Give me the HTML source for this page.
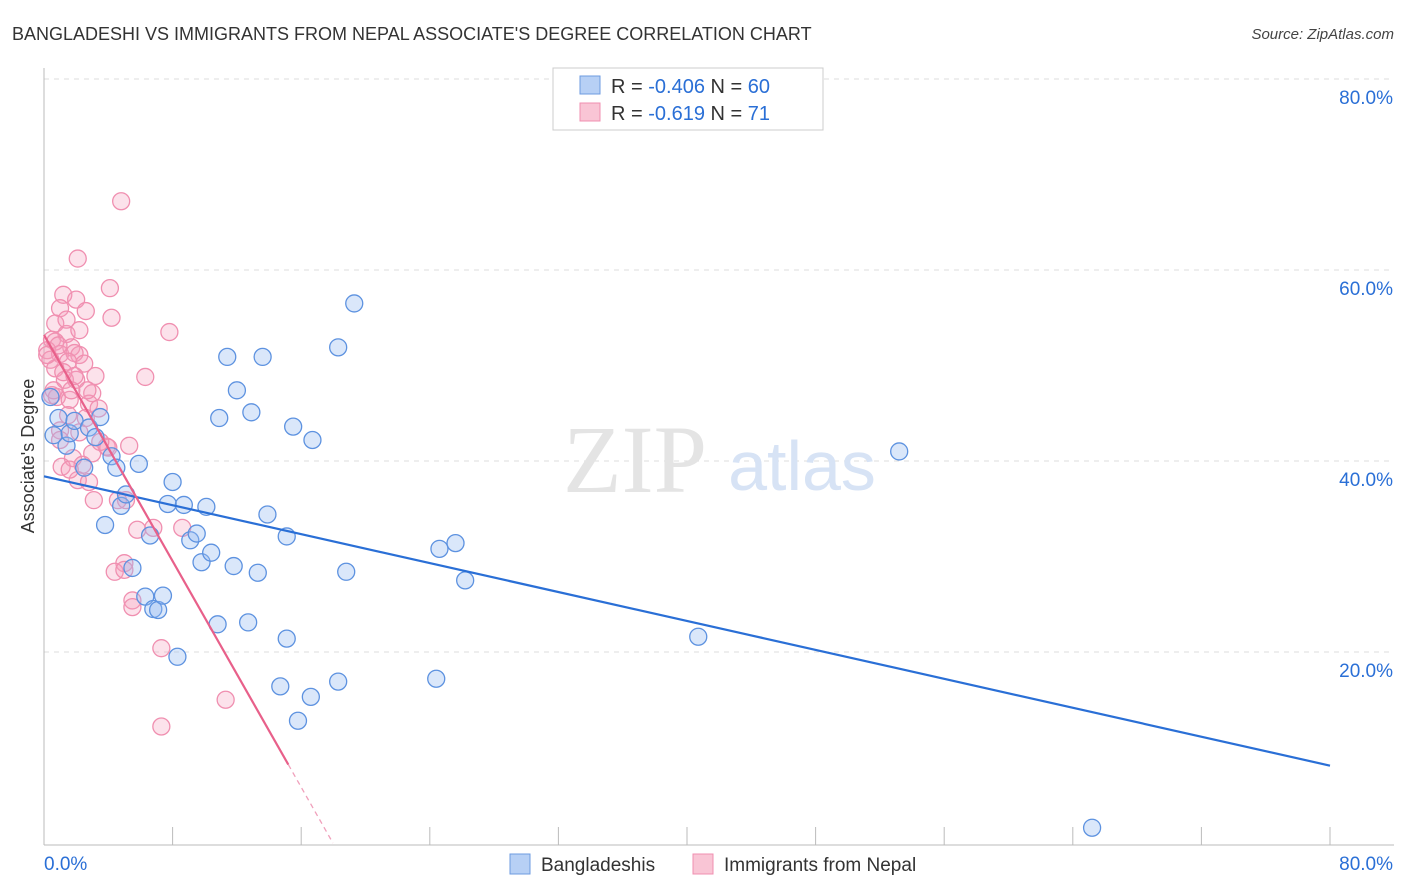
<!DOCTYPE html>
<html><head><meta charset="utf-8"><style>
body{margin:0;background:#fff;font-family:"Liberation Sans",sans-serif;}
</style></head><body>
<svg width="1406" height="892" xmlns="http://www.w3.org/2000/svg" style="display:block">
<text x="12" y="40" font-size="18" fill="#333">BANGLADESHI VS IMMIGRANTS FROM NEPAL ASSOCIATE'S DEGREE CORRELATION CHART</text>
<text x="1394" y="39" font-size="15" fill="#444" text-anchor="end" font-style="italic">Source: ZipAtlas.com</text>
<g id="grid"></g>
<text x="635" y="492" font-size="96" fill="#e4e4e4" font-family="Liberation Serif,serif" text-anchor="middle">ZIP</text>
<text x="802" y="490" font-size="70" fill="#d7e3f5" text-anchor="middle">atlas</text>
<g id="pts"></g>
<g id="lines"></g>
<text transform="translate(34,456) rotate(-90)" font-size="18" fill="#333" text-anchor="middle">Associate's Degree</text>
<g>
<rect x="553" y="68" width="270" height="62" fill="#fff" stroke="#ccc"/>
<rect x="580" y="76" width="20" height="18" fill="#b7d0f5" stroke="#6d9be0"/>
<rect x="580" y="103" width="20" height="18" fill="#f9c5d5" stroke="#f08fb0"/>
<text x="611" y="93" font-size="20" fill="#333">R = <tspan fill="#2a6fd6">-0.406</tspan>   N = <tspan fill="#2a6fd6">60</tspan></text>
<text x="611" y="120" font-size="20" fill="#333">R =  <tspan fill="#2a6fd6">-0.619</tspan>   N =  <tspan fill="#2a6fd6">71</tspan></text>
</g>
<g>
<rect x="510" y="854" width="20" height="20" fill="#b7d0f5" stroke="#6d9be0"/>
<text x="541" y="871" font-size="19" fill="#333">Bangladeshis</text>
<rect x="693" y="854" width="20" height="20" fill="#f9c5d5" stroke="#f08fb0"/>
<text x="724" y="871" font-size="19" fill="#333">Immigrants from Nepal</text>
</g>
</svg>
<script>
const yTicks=[20,40,60,80];
const yTickLabels=["20.0%","40.0%","60.0%","80.0%"];
const xTickLabels=["0.0%","80.0%"];
const blueX=[0.4,0.6,0.9,1.4,1.6,1.9,2.5,2.8,3.2,3.5,3.8,4.2,4.5,4.8,5.1,5.5,5.9,6.3,6.6,6.8,7.1,7.4,7.7,8.0,8.3,8.7,9.1,9.5,9.8,10.1,10.4,10.8,10.9,11.4,11.8,12.0,12.7,12.9,13.3,13.6,13.9,14.7,15.1,15.1,15.5,15.8,16.6,16.7,18.3,18.3,18.8,19.3,24.4,24.6,25.6,26.2,40.7,53.2,65.2];
const blueY=[46.7,42.7,44.5,41.6,42.9,44.2,39.3,43.5,42.5,44.6,33.3,40.5,39.3,35.3,36.5,28.8,39.7,25.8,32.2,24.5,24.4,25.9,35.5,37.8,19.5,35.4,31.7,32.4,29.4,35.2,30.4,22.9,44.5,50.9,29.0,47.4,23.1,45.1,28.3,50.9,34.4,16.4,32.1,21.4,43.6,12.8,15.3,42.2,16.9,51.9,28.4,56.5,17.2,30.8,31.4,27.5,21.6,41.0,1.6];
const pinkX=[4.8,2.1,4.1,1.2,2.0,1.0,2.6,4.2,0.7,7.8,1.4,0.5,0.7,0.2,1.7,2.2,1.0,1.9,0.4,1.5,0.7,2.5,3.2,6.3,1.3,2.0,3.0,0.5,0.8,2.8,1.6,1.5,2.6,0.6,1.0,2.2,3.9,5.3,1.8,3.0,1.1,2.4,2.1,2.8,3.1,4.6,5.1,6.8,8.6,5.8,5.0,4.4,5.0,5.5,5.5,7.3,11.3,7.3,0.2,0.9,1.2,1.7,3.4,4.0,1.6,1.0,2.7,3.5,2.2,1.4,1.9];
const pinkY=[67.2,61.2,58.1,57.4,56.9,56.0,55.7,55.0,54.4,53.5,53.3,52.7,52.5,51.6,51.9,51.1,51.2,51.3,50.6,50.4,49.7,50.2,48.9,48.8,48.5,48.5,47.1,46.9,46.7,46.0,46.4,44.8,44.5,47.4,43.2,43.0,41.5,41.6,40.3,40.8,39.4,39.6,38.0,37.8,35.9,35.9,35.9,33.0,33.0,32.8,29.3,28.4,28.6,25.4,24.7,20.4,15.0,12.2,51.1,52.1,49.3,47.4,45.5,41.4,39.1,42.2,47.4,42.0,53.7,54.8,48.9];
const blueTrend=[38.4,8.1];
const pinkTrend=[53.2,-2.96];
const NS="http://www.w3.org/2000/svg";
const X0=44,X1=1330,Y0=843,Y80=79;
const sx=v=>X0+v/80*(X1-X0);
const sy=v=>Y0-v/80*(Y0-Y80);
function mk(tag,attrs,parent){const e=document.createElementNS(NS,tag);for(const k in attrs)e.setAttribute(k,attrs[k]);parent.appendChild(e);return e;}
const grid=document.getElementById('grid');
yTicks.forEach((t,i)=>{
 const l=mk('line',{x1:44,x2:1394,y1:sy(t),y2:sy(t),stroke:'#ddd','stroke-dasharray':'5,5'},grid);
 
 
 const tx=mk('text',{x:1393,y:sy(t)+25,'font-size':19,fill:'#2a6fd6','text-anchor':'end'},grid);
 tx.textContent=yTickLabels[i];
 
 
});
const ax=mk('line',{x1:44,x2:1394,y1:845,y2:845,stroke:'#bbb'},grid);


const ay=mk('line',{x1:44,x2:44,y1:68,y2:845,stroke:'#bbb'},grid);


for(let i=0;i<=10;i++){
 const tk=mk('line',{x1:sx(i*8),x2:sx(i*8),y1:827,y2:845,stroke:'#bbb'},grid);
 
 
}
const xl0=mk('text',{x:44,y:870,'font-size':19,fill:'#2a6fd6'},grid);
xl0.textContent=xTickLabels[0];


const xl1=mk('text',{x:1393,y:870,'font-size':19,fill:'#2a6fd6','text-anchor':'end'},grid);
xl1.textContent=xTickLabels[1];


const pts=document.getElementById('pts');
pinkX.forEach((x,i)=>{
 const c=mk('circle',{cx:sx(x),cy:sy(pinkY[i]),r:8.5,fill:'rgba(245,160,190,0.3)',stroke:'#f08fb0','stroke-width':1.3},pts);
 
 
});
blueX.forEach((x,i)=>{
 const c=mk('circle',{cx:sx(x),cy:sy(blueY[i]),r:8.5,fill:'rgba(150,185,240,0.35)',stroke:'#5d92e0','stroke-width':1.3},pts);
 
 
});
const lines=document.getElementById('lines');
const bl=mk('line',{x1:sx(0),y1:sy(blueTrend[0]),x2:sx(80),y2:sy(blueTrend[1]),stroke:'#2a6fd6','stroke-width':2.2},lines);


const pf=x=>pinkTrend[0]+pinkTrend[1]*x;
const xEnd=-pinkTrend[0]/pinkTrend[1];
const pl=mk('line',{x1:sx(0),y1:sy(pf(0)),x2:sx(15.2),y2:sy(pf(15.2)),stroke:'#e8608a','stroke-width':2.2},lines);


const pd=mk('line',{x1:sx(15.2),y1:sy(pf(15.2)),x2:sx(xEnd),y2:sy(0),stroke:'#f0a0bb','stroke-width':1.3,'stroke-dasharray':'5,4'},lines);


</script>
</body></html>
